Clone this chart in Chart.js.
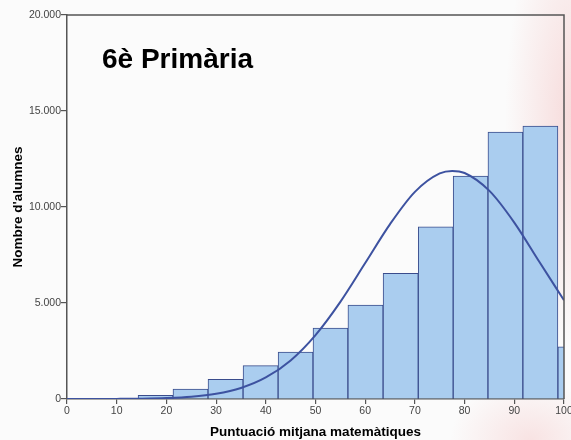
<!DOCTYPE html>
<html>
<head>
<meta charset="utf-8">
<script src="https://cdn.jsdelivr.net/npm/chart.js@4/dist/chart.umd.min.js"></script>
<style>
  html, body { margin: 0; padding: 0; }
  body {
    width: 571px; height: 440px; overflow: hidden;
    background:
      radial-gradient(ellipse 70px 230px at 575px 120px, rgba(236,140,140,0.30), rgba(236,140,140,0) 100%),
      radial-gradient(ellipse 80px 60px at 530px 440px, rgba(236,140,140,0.22), rgba(236,140,140,0) 100%),
      #fbfbfb;
  }
  canvas { display: block; }
</style>
</head>
<body>
<canvas id="c" width="571" height="440"></canvas>
<script>
// Histogram bins (centres of the bins on the score axis) and student counts
const binCenters = [3.75, 10.8, 17.8, 24.85, 31.9, 38.95, 46.0, 53.0, 60.05, 67.15, 74.2, 81.2, 88.2, 95.25, 102.3];
const binCounts  = [10, 40, 190, 520, 1020, 1740, 2450, 3690, 4890, 6540, 8970, 11610, 13900, 14210, 2720];

// Fitted normal curve
const curveX = [0, 5, 10, 15, 20, 25, 30, 35, 40, 45, 50, 55, 60, 65, 70, 75, 77.5, 80, 85, 90, 95, 100];
const curveY = [0, 2, 6, 17, 47, 117, 270, 573, 1120, 2010, 3330, 5060, 7080, 9110, 10790, 11750, 11880, 11770, 10840, 9190, 7160, 5140];

const yTickValues = [0, 5000, 10000, 15000, 20000];
const yTickLabels = ['0', '5.000', '10.000', '15.000', '20.000'];

const chartTitle = '6è Primària';
const xTitle = 'Puntuació mitjana matemàtiques';
const yTitle = "Nombre d'alumnes";

const axisColor = '#555555';
const tickFont = { family: 'Liberation Sans, Arial, sans-serif', size: 10.5 };
const titleFont = { family: 'Liberation Sans, Arial, sans-serif', size: 13.5, weight: 'bold' };

const innerTitle = {
  id: 'innerTitle',
  afterDraw(chart) {
    const { ctx, chartArea } = chart;
    ctx.save();
    // frame (top and right)
    ctx.strokeStyle = axisColor;
    ctx.lineWidth = 1.5;
    ctx.beginPath();
    ctx.moveTo(chartArea.left, chartArea.top);
    ctx.lineTo(chartArea.right, chartArea.top);
    ctx.lineTo(chartArea.right, chartArea.bottom);
    ctx.stroke();
    // title inside plot
    ctx.fillStyle = '#000';
    ctx.font = 'bold 28px "Liberation Sans", Arial, sans-serif';
    ctx.textBaseline = 'alphabetic';
    ctx.textAlign = 'left';
    ctx.fillText(chartTitle, chartArea.left + 35, chartArea.top + 53);
    ctx.restore();
  }
};

new Chart(document.getElementById('c'), {
  type: 'bar',
  data: {
    datasets: [
      {
        type: 'line',
        data: curveX.map((x, i) => ({ x, y: curveY[i] })),
        borderColor: '#3d52a0',
        borderWidth: 2,
        pointRadius: 0,
        cubicInterpolationMode: 'monotone',
        fill: false,
        order: 0
      },
      {
        type: 'bar',
        data: binCenters.map((x, i) => ({ x, y: binCounts[i] })),
        backgroundColor: '#aacdef',
        borderColor: '#3a4c8c',
        borderWidth: 1,
        borderSkipped: 'start',
        barThickness: 'flex',
        categoryPercentage: 1,
        barPercentage: 1,
        order: 1
      }
    ]
  },
  options: {
    responsive: false,
    animation: false,
    devicePixelRatio: 1,
    layout: { padding: { left: 0, right: 7, top: 15, bottom: 0 } },
    plugins: { legend: { display: false }, tooltip: { enabled: false } },
    scales: {
      x: {
        type: 'linear',
        min: 0, max: 100,
        offset: false,
        z: 1,
        grid: { display: true, drawOnChartArea: false, offset: false, drawTicks: true, tickLength: 5, color: axisColor, lineWidth: 1.2 },
        border: { display: true, color: axisColor, width: 1.5 },
        ticks: { stepSize: 10, color: '#444', font: tickFont, padding: 1, maxRotation: 0, autoSkip: false },
        title: { display: true, text: xTitle, color: '#000', font: titleFont, padding: { top: 0, bottom: 0 } },
        afterFit(scale) { scale.height = 41; scale.paddingLeft = 0; scale.paddingRight = 0; }
      },
      y: {
        type: 'linear',
        min: 0, max: 20000,
        z: 1,
        afterBuildTicks(scale) { scale.ticks = yTickValues.map(v => ({ value: v })); },
        grid: { display: true, drawOnChartArea: false, drawTicks: true, tickLength: 6, color: axisColor, lineWidth: 1.2 },
        border: { display: true, color: axisColor, width: 1.5 },
        ticks: {
          color: '#444', font: tickFont, padding: 0,
          callback(value) { const i = yTickValues.indexOf(value); return i >= 0 ? yTickLabels[i] : ''; }
        },
        title: { display: true, text: yTitle, color: '#000', font: titleFont, padding: { top: 10, bottom: 0 } },
        afterFit(scale) { scale.width = 67; }
      }
    }
  },
  plugins: [innerTitle]
});
</script>
</body>
</html>
